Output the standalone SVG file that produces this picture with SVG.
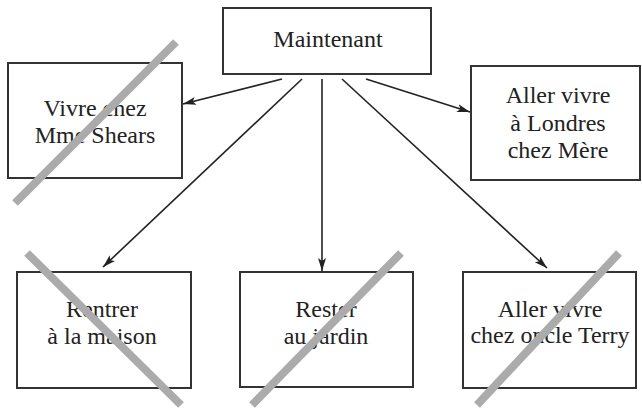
<svg xmlns="http://www.w3.org/2000/svg" width="642" height="409" viewBox="0 0 642 409">
  <style>
    .box { fill: #ffffff; stroke: #333333; stroke-width: 2; }
    .lbl { font-size: 24px; fill: #222222; text-anchor: middle; }
    .conn { stroke: #222222; stroke-width: 1.6; fill: none; marker-end: url(#arrow); }
    .strike { stroke: #ababab; stroke-width: 8; stroke-linecap: butt; }
  </style>
  <defs>
    <marker id="arrow" markerUnits="userSpaceOnUse" markerWidth="14" markerHeight="10" refX="13" refY="4" orient="auto">
      <path d="M0,0 L13,4 L0,8 L3,4 z" fill="#222222"/>
    </marker>
  </defs>
  <rect width="642" height="409" fill="#ffffff"/>

  <g id="connectors">
    <line class="conn" x1="282" y1="79" x2="183" y2="104"/>
    <line class="conn" x1="366" y1="79" x2="470" y2="112"/>
    <line class="conn" x1="302" y1="79" x2="103" y2="267"/>
    <line class="conn" x1="322" y1="79" x2="322" y2="271"/>
    <line class="conn" x1="342" y1="79" x2="547" y2="268"/>
  </g>

  <g font-family="Liberation Serif, DejaVu Serif, Times New Roman, serif">
  <g id="maintenant">
    <rect class="box" x="223" y="8" width="208" height="66"/>
    <text class="lbl" x="328" y="47">Maintenant</text>
  </g>

  <g id="mme-shears">
    <rect class="box" x="8" y="63" width="174" height="115"/>
    <text class="lbl" x="95" y="116">Vivre chez</text>
    <text class="lbl" x="95" y="143">Mme Shears</text>
    <line class="strike" x1="15" y1="203" x2="176" y2="42"/>
  </g>

  <g id="londres">
    <rect class="box" x="471" y="66" width="169" height="114"/>
    <text class="lbl" x="558" y="103">Aller vivre</text>
    <text class="lbl" x="558" y="131">à Londres</text>
    <text class="lbl" x="558" y="158">chez Mère</text>
  </g>

  <g id="rentrer">
    <rect class="box" x="17" y="272" width="174" height="116"/>
    <text class="lbl" x="102" y="317">Rentrer</text>
    <text class="lbl" x="102" y="344">à la maison</text>
    <line class="strike" x1="27" y1="253" x2="181" y2="405"/>
  </g>

  <g id="rester">
    <rect class="box" x="240" y="272" width="173" height="115"/>
    <text class="lbl" x="326" y="317">Rester</text>
    <text class="lbl" x="326" y="344">au jardin</text>
    <line class="strike" x1="252" y1="405" x2="401" y2="253"/>
  </g>

  <g id="oncle-terry">
    <rect class="box" x="463" y="272" width="173" height="116"/>
    <text class="lbl" x="550" y="317">Aller vivre</text>
    <text class="lbl" x="550" y="343">chez oncle Terry</text>
    <line class="strike" x1="477" y1="405" x2="619" y2="253"/>
  </g>
  </g>
</svg>
